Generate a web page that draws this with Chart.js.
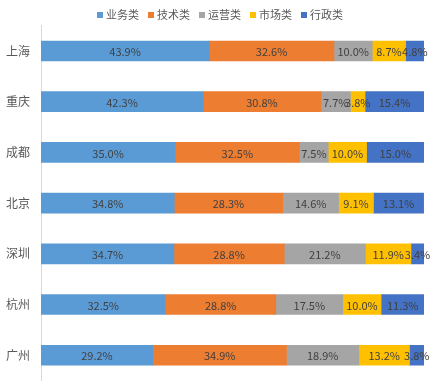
<!DOCTYPE html>
<html>
<head>
<meta charset="utf-8">
<script src="https://cdn.jsdelivr.net/npm/chart.js@4"></script>
<style>
  html, body { margin: 0; padding: 0; background: #fff; }
  #wrap { width: 445px; height: 385px; }
</style>
</head>
<body>
<div id="wrap"><canvas id="chart" width="445" height="385"></canvas></div>
<script>
const cities = ['上海', '重庆', '成都', '北京', '深圳', '杭州', '广州'];
const seriesNames = ['业务类', '技术类', '运营类', '市场类', '行政类'];
const business = [43.9, 42.3, 35.0, 34.8, 34.7, 32.5, 29.2];
const tech = [32.6, 30.8, 32.5, 28.3, 28.8, 28.8, 34.9];
const ops = [10.0, 7.7, 7.5, 14.6, 21.2, 17.5, 18.9];
const market = [8.7, 3.8, 10.0, 9.1, 11.9, 10.0, 13.2];
const admin = [4.8, 15.4, 15.0, 13.1, 3.4, 11.3, 3.8];
const colors = ['#5B9BD5', '#ED7D31', '#A5A5A5', '#FFC000', '#4472C4'];

const FONT = '"Noto Sans CJK SC", "Noto Sans", sans-serif';

// draws the percentage in the middle of every segment
const segmentLabels = {
  id: 'segmentLabels',
  afterDatasetsDraw(chart) {
    const ctx = chart.ctx;
    ctx.save();
    ctx.font = '11px ' + FONT;
    ctx.fillStyle = '#404040';
    ctx.textAlign = 'center';
    ctx.textBaseline = 'middle';
    chart.data.datasets.forEach((ds, i) => {
      chart.getDatasetMeta(i).data.forEach((bar, j) => {
        const x = (bar.x + bar.base) / 2;
        ctx.fillText(ds.data[j].toFixed(1) + '%', x, bar.y + 1);
      });
    });
    ctx.restore();
  }
};

// small legend row above the plot, like the excel one
const topLegend = {
  id: 'topLegend',
  afterDraw(chart) {
    const ctx = chart.ctx;
    ctx.save();
    ctx.font = '11px ' + FONT;
    ctx.textBaseline = 'middle';
    const box = 6, gap = 3, space = 9;
    const items = chart.data.datasets.map(ds => ({
      label: ds.label, color: ds.backgroundColor, w: box + gap + ctx.measureText(ds.label).width
    }));
    const total = items.reduce((s, it) => s + it.w, 0) + space * (items.length - 1);
    let x = 220 - total / 2;
    const y = 15;
    items.forEach(it => {
      ctx.fillStyle = it.color;
      ctx.fillRect(x, y - box / 2, box, box);
      ctx.fillStyle = '#595959';
      ctx.fillText(it.label, x + box + gap, y);
      x += it.w + space;
    });
    ctx.restore();
  }
};

const values = [business, tech, ops, market, admin];

new Chart(document.getElementById('chart'), {
  type: 'bar',
  data: {
    labels: cities,
    datasets: seriesNames.map((name, i) => ({
      label: name,
      data: values[i],
      backgroundColor: colors[i],
      borderWidth: 0,
      barThickness: 20,
    })),
  },
  options: {
    responsive: false,
    animation: false,
    indexAxis: 'y',
    layout: { padding: { left: 0, right: 21, top: 25.6, bottom: 4.4 } },
    plugins: {
      legend: { display: false },
      tooltip: { enabled: false },
    },
    scales: {
      x: {
        stacked: true,
        min: 0,
        max: 100,
        display: false,
      },
      y: {
        stacked: true,
        grid: { display: false, drawTicks: false },
        border: { display: true, color: '#D9D9D9' },
        ticks: {
          color: '#595959',
          padding: 11,
          font: { family: FONT, size: 12 },
        },
        afterFit(scale) {
          scale.width = 41;
          scale.paddingTop = 0;
          scale.paddingBottom = 0;
        },
      },
    },
  },
  plugins: [segmentLabels, topLegend],
});
</script>
</body>
</html>
